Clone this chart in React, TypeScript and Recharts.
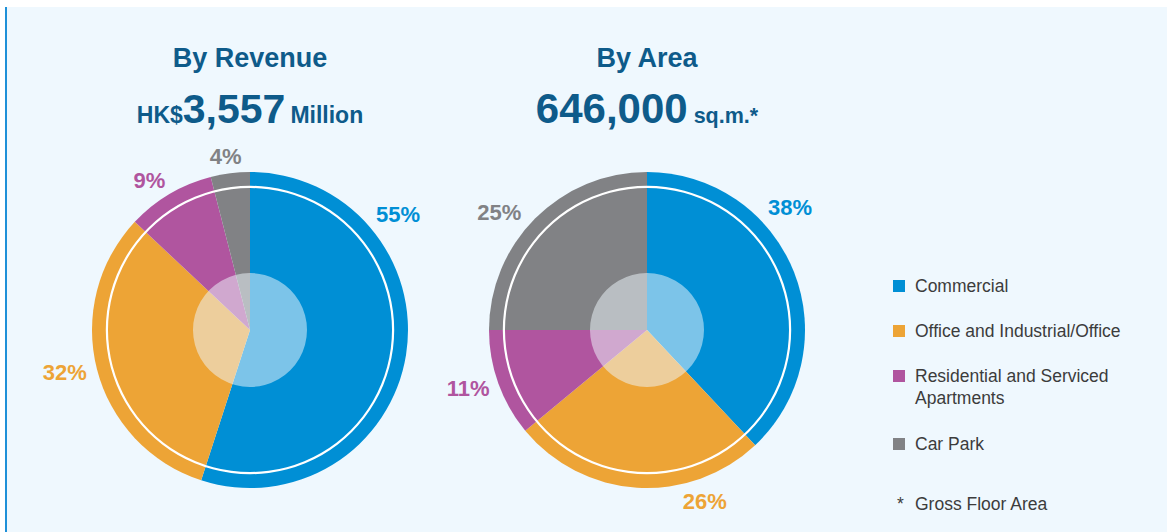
import React from "react";
import { PieChart, Pie, Cell } from "recharts";

// categories and colours shared by both pies
const categories = [
  "Commercial",
  "Office and Industrial/Office",
  "Residential and Serviced Apartments",
  "Car Park",
];
const colors = ["#008FD5", "#EDA436", "#B0559F", "#818285"];

// shares in percent
const revenueShare = [55, 32, 9, 4];
const areaShare = [38, 26, 11, 25];

// legend text, wrapped like the original
const legendLines = [
  ["Commercial"],
  ["Office and Industrial/Office"],
  ["Residential and Serviced", "Apartments"],
  ["Car Park"],
];

// decoration pies (white ring + translucent hub)
const ringData = [{ name: "ring", value: 1 }];

// label placement: [clockwise degrees from 12 o'clock, radius]
const revenueLabelPos = [
  [52, 188],
  [257, 190],
  [326, 180],
  [352, 175],
];
const areaLabelPos = [
  [49.5, 188],
  [161.4, 181],
  [252, 188],
  [308.6, 189],
];

const revenueData = categories.map((name, i) => ({ name, value: revenueShare[i] }));
const areaData = categories.map((name, i) => ({ name, value: areaShare[i] }));

const FONT = "'Liberation Sans', Arial, sans-serif";
const TITLE = "#0E5B8A";
const W = 1167;
const H = 532;
const R = 158;
const leftC = { x: 250, y: 330 };
const rightC = { x: 647, y: 330 };

const makeLabel = (pos: number[][]) => (props: any) => {
  const { cx, cy, index, value } = props;
  const [deg, r] = pos[index];
  const rad = (deg * Math.PI) / 180;
  const x = cx + r * Math.sin(rad);
  const y = cy - r * Math.cos(rad);
  return (
    <text
      x={x}
      y={y}
      textAnchor="middle"
      dominantBaseline="central"
      fill={colors[index]}
      fontSize={22}
      fontWeight="bold"
      fontFamily={FONT}
    >
      {value}%
    </text>
  );
};

function Donut({ data, c, pos }: { data: any[]; c: { x: number; y: number }; pos: number[][] }) {
  return [
    <Pie
      key="main"
      data={data}
      dataKey="value"
      cx={c.x}
      cy={c.y}
      outerRadius={R}
      startAngle={90}
      endAngle={-270}
      stroke="none"
      labelLine={false}
      label={makeLabel(pos)}
      isAnimationActive={false}
    >
      {data.map((d, i) => (
        <Cell key={d.name} fill={colors[i]} />
      ))}
    </Pie>,
    <Pie
      key="ring"
      data={ringData}
      dataKey="value"
      cx={c.x}
      cy={c.y}
      innerRadius={142}
      outerRadius={144.2}
      startAngle={90}
      endAngle={-270}
      fill="#ffffff"
      stroke="none"
      isAnimationActive={false}
    />,
    <Pie
      key="hub"
      data={ringData}
      dataKey="value"
      cx={c.x}
      cy={c.y}
      outerRadius={57}
      startAngle={90}
      endAngle={-270}
      fill="rgba(238,246,252,0.52)"
      stroke="none"
      isAnimationActive={false}
    />,
  ];
}

export default function App() {
  const legendY = [286, 331, 376, 444];
  return (
    <div style={{ position: "relative", width: W, height: H, background: "#fff", fontFamily: FONT }}>
      <style>{`body{margin:0}`}</style>
      <div
        style={{
          position: "absolute",
          left: 5,
          top: 7,
          right: 0,
          bottom: 0,
          background: "#EFF8FE",
          borderLeft: "2px solid #1E90D8",
        }}
      />
      <div style={{ position: "absolute", left: 0, top: 0 }}>
        <PieChart width={W} height={H} margin={{ top: 0, right: 0, bottom: 0, left: 0 }}>
          {Donut({ data: revenueData, c: leftC, pos: revenueLabelPos })}
          {Donut({ data: areaData, c: rightC, pos: areaLabelPos })}
        </PieChart>
      </div>
      <svg
        width={W}
        height={H}
        style={{ position: "absolute", left: 0, top: 0, pointerEvents: "none" }}
        fontFamily={FONT}
      >
        <text x={leftC.x} y={67} textAnchor="middle" fontSize={27} fontWeight="bold" fill={TITLE}>
          By Revenue
        </text>
        <text x={leftC.x} y={123} textAnchor="middle" fontWeight="bold" fill={TITLE}>
          <tspan fontSize={23}>HK$</tspan>
          <tspan fontSize={41}>3,557</tspan>
          <tspan fontSize={23} dx={5}>Million</tspan>
        </text>
        <text x={rightC.x} y={67} textAnchor="middle" fontSize={27} fontWeight="bold" fill={TITLE}>
          By Area
        </text>
        <text x={rightC.x} y={123} textAnchor="middle" fontWeight="bold" fill={TITLE}>
          <tspan fontSize={42}>646,000</tspan>
          <tspan fontSize={21.5} dx={6}>sq.m.*</tspan>
        </text>

        {legendLines.map((lines, i) => (
          <g key={categories[i]}>
            <rect x={893} y={legendY[i] - 6} width={12} height={12} fill={colors[i]} />
            {lines.map((t, j) => (
              <text key={t} x={915} y={legendY[i] + 6 + j * 21.5} fontSize={17.5} fill="#3C3C3C">
                {t}
              </text>
            ))}
          </g>
        ))}
        <text x={897} y={510} fontSize={17.5} fill="#3C3C3C">
          *
        </text>
        <text x={915} y={510} fontSize={17.5} fill="#3C3C3C">
          Gross Floor Area
        </text>
      </svg>
    </div>
  );
}
